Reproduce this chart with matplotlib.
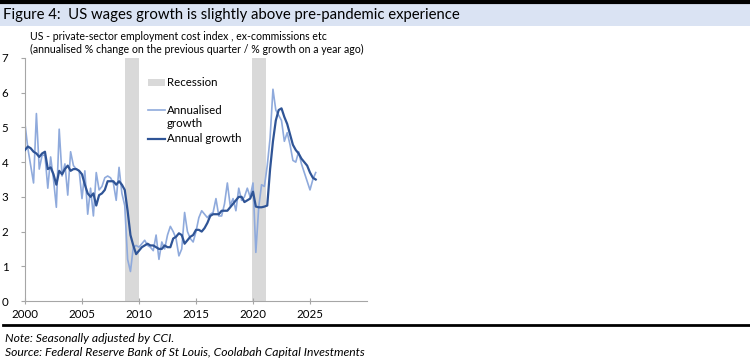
import numpy as np
import matplotlib
matplotlib.use("Agg")
import matplotlib.pyplot as plt
from matplotlib.patches import Rectangle
from matplotlib.lines import Line2D

# quarterly series, 2000Q1 onwards
start_year = 2000
annualised = [
    5.10, 4.40, 3.90, 3.40, 5.40, 3.80, 4.20, 4.20,
    3.25, 4.15, 3.50, 2.70, 4.95, 3.60, 3.95, 3.05,
    4.30, 3.90, 3.80, 3.75, 2.95, 3.75, 2.50, 3.25,
    2.45, 3.70, 3.20, 3.30, 3.55, 3.60, 3.55, 3.40,
    2.90, 3.85, 3.10, 2.75, 1.20, 0.85, 1.55, 1.60,
    1.55, 1.65, 1.75, 1.60, 1.55, 1.45, 1.90,
    1.20, 1.70, 1.50, 1.90, 2.15, 2.00, 1.80, 1.30,
    1.50, 2.55, 2.00, 1.80, 1.70, 2.00, 2.40, 2.60,
    2.50, 2.40, 2.50, 2.55, 2.95, 2.45, 2.45, 2.80,
    3.40, 2.75, 2.95, 2.60, 3.25, 2.90, 3.00, 3.25,
    3.00, 3.40,
    1.40, 2.70, 3.35, 3.30, 3.90, 4.70, 6.10, 5.50, 5.35, 5.20, 4.60,
    4.85, 4.50, 4.05, 4.00, 4.30, 3.95, 3.70, 3.45, 3.20, 3.50, 3.70,
]
annual = [
    4.35, 4.45, 4.40, 4.30, 4.25, 4.15, 4.25, 4.30,
    3.80, 3.85, 3.65, 3.35, 3.75, 3.65, 3.80, 3.90,
    3.75, 3.80, 3.80, 3.75, 3.65, 3.35, 3.10, 3.00,
    3.10, 2.75, 3.05, 3.10, 3.20, 3.45, 3.45, 3.45,
    3.35, 3.45, 3.35, 3.20, 2.60, 1.90, 1.60, 1.35,
    1.45, 1.55, 1.60, 1.65, 1.60, 1.60, 1.55,
    1.50, 1.50, 1.60, 1.55, 1.55, 1.80, 1.85, 1.95,
    1.90, 1.65, 1.75, 1.85, 1.90, 2.05, 2.05, 2.00,
    2.10, 2.25, 2.45, 2.50, 2.50, 2.50, 2.60, 2.60,
    2.60, 2.70, 2.80, 2.90, 3.00, 3.00, 2.85, 2.90,
    2.95, 3.15,
    2.72, 2.70, 2.70, 2.72, 2.75, 3.80, 4.60, 5.20, 5.50, 5.55, 5.30,
    5.10, 4.80, 4.50, 4.35, 4.25, 4.10, 4.00, 3.90, 3.70, 3.55, 3.50,
]
recessions = [(2008.75, 2010.0), (2019.9, 2021.1)]
year_ticks = [2000, 2005, 2010, 2015, 2020, 2025]

t = start_year + np.arange(len(annual)) / 4.0

light = "#8faadc"
dark = "#2f5496"
grey = "#d9d9d9"
plt.rcParams["font.family"] = ["Lato", "DejaVu Sans"]

fig = plt.figure(figsize=(7.5, 3.59), dpi=100)

# header band
fig.patches.append(Rectangle((0, 1 - 26 / 359), 1, 22 / 359, transform=fig.transFigure,
                             facecolor="#dae3f3", edgecolor="none"))
fig.add_artist(Line2D([0, 1], [1 - 2 / 359] * 2, color="black", lw=3))
fig.text(3 / 750, 1 - 15.5 / 359, "Figure 4:  US wages growth is slightly above pre-pandemic experience",
         fontsize=10.7, va="center", ha="left")
fig.text(30 / 750, 1 - 36 / 359, "US - private-sector employment cost index , ex-commissions etc",
         fontsize=7.6, va="center")
fig.text(30 / 750, 1 - 49 / 359, "(annualised % change on the previous quarter / % growth on a year ago)",
         fontsize=7.6, va="center")

ax = fig.add_axes([25 / 750, 1 - 301 / 359, 342 / 750, 243 / 359])
for a, b in recessions:
    ax.axvspan(a, b, color=grey, lw=0, zorder=0)
ax.plot(t, annualised, color=light, lw=1.2, zorder=2)
ax.plot(t, annual, color=dark, lw=1.6, zorder=3)

ax.set_xlim(2000, 2030)
ax.set_ylim(0, 7)
ax.set_xticks(year_ticks)
ax.set_yticks(range(0, 8))
for s in ["top", "right"]:
    ax.spines[s].set_visible(False)
for s in ["left", "bottom"]:
    ax.spines[s].set_color("#a6a6a6")
    ax.spines[s].set_linewidth(0.8)
ax.tick_params(axis="both", colors="#a6a6a6", labelcolor="black", labelsize=8.3, width=0.8)
ax.tick_params(axis="x", direction="inout", length=5, pad=3)
ax.tick_params(axis="y", direction="out", length=3, pad=9)

# legend, drawn by hand so the two-line label sits like the original
tr = ax.transAxes
ax.add_patch(Rectangle((0.360, 0.885), 0.049, 0.03, transform=tr, facecolor=grey,
                       edgecolor="none"))
ax.add_line(Line2D([0.360, 0.409], [0.786, 0.786], transform=tr, color=light, lw=1.2))
ax.add_line(Line2D([0.360, 0.409], [0.667, 0.667], transform=tr, color=dark, lw=1.6))
ax.text(0.415, 0.900, "Recession", transform=tr, fontsize=8.3, va="center")
ax.text(0.415, 0.786, "Annualised", transform=tr, fontsize=8.3, va="center")
ax.text(0.415, 0.732, "growth", transform=tr, fontsize=8.3, va="center")
ax.text(0.415, 0.667, "Annual growth", transform=tr, fontsize=8.3, va="center")

# footer
fig.add_artist(Line2D([3 / 750, 1], [1 - 325 / 359] * 2, color="black", lw=2))
fig.text(5 / 750, 1 - 338 / 359, "Note: Seasonally adjusted by CCI.", fontsize=8.7,
         style="italic", va="center")
fig.text(5 / 750, 1 - 352 / 359, "Source: Federal Reserve Bank of St Louis, Coolabah Capital Investments",
         fontsize=8.7, style="italic", va="center")

fig.savefig("out.png", dpi=100)
